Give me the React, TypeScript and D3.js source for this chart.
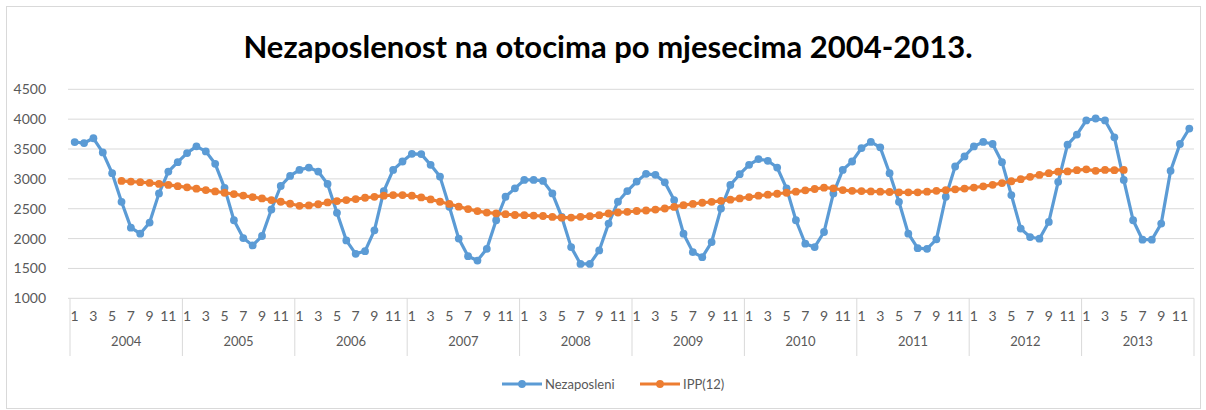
import React from "react";
import * as d3 from "d3";

const years = ["2004", "2005", "2006", "2007", "2008", "2009", "2010", "2011", "2012", "2013"];
const monthLabels = ["1", "", "3", "", "5", "", "7", "", "9", "", "11", ""];
const yTicks = [1000, 1500, 2000, 2500, 3000, 3500, 4000, 4500];

// Nezaposleni, monthly Jan 2004 .. Dec 2013
const nezaposleni = [
  3617, 3600, 3680, 3443, 3095, 2616, 2183, 2082, 2268, 2757, 3123, 3280,
  3432, 3545, 3460, 3252, 2850, 2307, 2009, 1885, 2043, 2487, 2881, 3050,
  3150, 3190, 3123, 2915, 2431, 1970, 1745, 1790, 2138, 2796, 3150, 3291,
  3420, 3415, 3235, 3038, 2532, 2000, 1705, 1632, 1829, 2307, 2701, 2841,
  2982, 2982, 2965, 2757, 2363, 1857, 1576, 1576, 1801, 2251, 2617, 2796,
  2954, 3085, 3067, 2943, 2645, 2082, 1773, 1688, 1942, 2504, 2898, 3078,
  3235, 3331, 3303, 3190, 2841, 2307, 1914, 1857, 2110, 2757, 3150, 3291,
  3516, 3618, 3528, 3095, 2616, 2082, 1840, 1829, 1987, 2701, 3207, 3376,
  3544, 3618, 3584, 3280, 2729, 2167, 2026, 1998, 2279, 2950, 3573, 3741,
  3978, 4011, 3978, 3696, 2982, 2307, 1981, 1981, 2251, 3134, 3584, 3843,
];

// IPP(12), from Jun 2004 (index 5) to May 2013 (index 112)
const ippStart = 5;
const ipp = [
  2965, 2955, 2945, 2932, 2915, 2898, 2878,
  2858, 2835, 2812, 2790, 2768, 2745, 2720, 2695, 2673, 2645, 2617, 2583,
  2549, 2555, 2575, 2605, 2628, 2645, 2662, 2684, 2700, 2718, 2729, 2729,
  2718, 2690, 2656, 2617, 2580, 2535, 2495, 2460, 2435, 2422, 2408, 2395,
  2392, 2385, 2378, 2362, 2350, 2352, 2365, 2375, 2392, 2420, 2437, 2448,
  2462, 2470, 2485, 2504, 2530, 2560, 2580, 2600, 2615, 2633, 2652, 2673,
  2695, 2718, 2735, 2751, 2768, 2785, 2808, 2830, 2853, 2841, 2813, 2800,
  2795, 2790, 2785, 2780, 2774, 2774, 2774, 2785, 2800, 2812, 2825, 2838,
  2855, 2875, 2900, 2930, 2960, 2995, 3035, 3066, 3095, 3120, 3125, 3145,
  3160, 3135, 3150, 3145, 3150,
];

const W = 1206;
const H = 410;
const BLUE = "#5B9BD5";
const ORANGE = "#ED7D31";
const GRID = "#D9D9D9";
const TEXT = "#595959";
const FONT = "Lato, 'Open Sans', sans-serif";
const FS = 14;

export default function App() {
  const left = 70;
  const right = 1194;
  const top = 89.3;
  const bottom = 298.3;
  const n = nezaposleni.length;

  const x = d3.scaleBand<number>().domain(d3.range(n)).range([left, right]).padding(0);
  const cx = (i: number) => (x(i) as number) + x.bandwidth() / 2;
  const y = d3.scaleLinear().domain([1000, 4500]).range([bottom, top]);

  const blueData = nezaposleni.map((v, i) => ({ i, v }));
  const orangeData = ipp.map((v, k) => ({ i: k + ippStart, v }));
  const line = d3
    .line<{ i: number; v: number }>()
    .x((d) => cx(d.i))
    .y((d) => y(d.v));

  const yearW = (right - left) / years.length;

  return (
    <svg width={W} height={H} style={{ display: "block", position: "absolute", left: 0, top: 0 }}>
      <rect x={0} y={0} width={W} height={H} fill="#fff" />
      <rect x={6.5} y={6.5} width={W - 12} height={H - 8} fill="none" stroke={GRID} />
      <text
        x={608}
        y={58}
        textAnchor="middle"
        fontFamily={FONT}
        fontWeight="bold"
        fontSize={31}
        fill="#000"
      >
        Nezaposlenost na otocima po mjesecima 2004-2013.
      </text>

      {yTicks.map((t) => (
        <g key={t}>
          <line x1={68} x2={right} y1={y(t)} y2={y(t)} stroke={GRID} strokeWidth={1} />
          <text x={46} y={y(t) + 5} textAnchor="end" fontFamily={FONT} fontSize={FS} fill={TEXT}>
            {t}
          </text>
        </g>
      ))}

      {d3.range(years.length + 1).map((k) => (
        <line
          key={"sep" + k}
          x1={left + k * yearW}
          x2={left + k * yearW}
          y1={bottom}
          y2={356}
          stroke={GRID}
          strokeWidth={1}
        />
      ))}

      {nezaposleni.map((_, i) =>
        monthLabels[i % 12] ? (
          <text
            key={"m" + i}
            x={cx(i)}
            y={321}
            textAnchor="middle"
            fontFamily={FONT}
            fontSize={FS}
            fill={TEXT}
          >
            {monthLabels[i % 12]}
          </text>
        ) : null
      )}

      {years.map((yr, k) => (
        <text
          key={yr}
          x={left + (k + 0.5) * yearW}
          y={346}
          textAnchor="middle"
          fontFamily={FONT}
          fontSize={FS - 1}
          fill={TEXT}
        >
          {yr}
        </text>
      ))}

      <path d={line(blueData) || ""} fill="none" stroke={BLUE} strokeWidth={3.2} strokeLinejoin="round" />
      {blueData.map((d) => (
        <circle key={"b" + d.i} cx={cx(d.i)} cy={y(d.v)} r={3.9} fill={BLUE} />
      ))}

      <path d={line(orangeData) || ""} fill="none" stroke={ORANGE} strokeWidth={3.2} strokeLinejoin="round" />
      {orangeData.map((d) => (
        <circle key={"o" + d.i} cx={cx(d.i)} cy={y(d.v)} r={3.9} fill={ORANGE} />
      ))}

      <g>
        <line x1={502} x2={542} y1={384} y2={384} stroke={BLUE} strokeWidth={3.2} />
        <circle cx={522} cy={384} r={3.9} fill={BLUE} />
        <text x={545} y={389} fontFamily={FONT} fontSize={FS - 1} fill={TEXT}>
          Nezaposleni
        </text>
        <line x1={640} x2={680} y1={384} y2={384} stroke={ORANGE} strokeWidth={3.2} />
        <circle cx={660} cy={384} r={3.9} fill={ORANGE} />
        <text x={683} y={389} fontFamily={FONT} fontSize={FS - 1} fill={TEXT}>
          IPP(12)
        </text>
      </g>
    </svg>
  );
}
